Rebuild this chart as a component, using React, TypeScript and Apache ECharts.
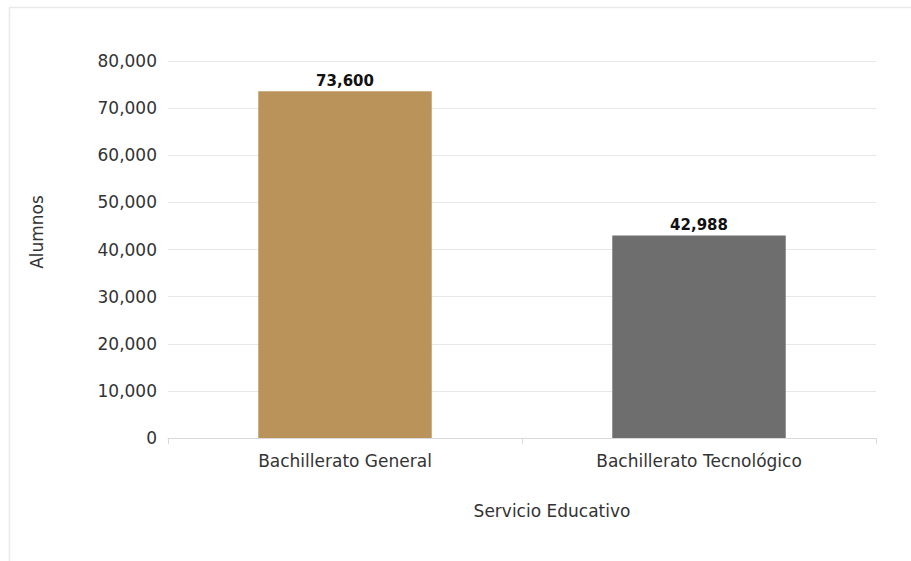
import React, { useEffect, useRef } from "react";
import * as echarts from "echarts";

const categories = ["Bachillerato General", "Bachillerato Tecnológico"];
const values = [73600, 42988];
const barColors = ["#BA935B", "#6E6E6E"];
const yTicks = { min: 0, max: 80000, interval: 10000 };
const yAxisTitle = "Alumnos";
const xAxisTitle = "Servicio Educativo";

const fmt = (v: number) => v.toLocaleString("en-US");
const FONT = "DejaVu Sans";

export default function App() {
  const ref = useRef<HTMLDivElement>(null);
  useEffect(() => {
    document.body.style.margin = "0";
    const chart = echarts.init(ref.current!, null, { renderer: "svg" });
    chart.setOption({
      animation: false,
      textStyle: { fontFamily: FONT },
      graphic: [
        {
          type: "rect",
          shape: { x: 9.5, y: 7.5, width: 1000, height: 700 },
          style: { fill: "none", stroke: "#e9e9e9", lineWidth: 1.5 },
          silent: true,
        },
        {
          type: "text",
          x: 37,
          y: 232,
          rotation: Math.PI / 2,
          style: {
            text: yAxisTitle,
            fill: "#333",
            font: `17px '${FONT}'`,
            align: "center",
            verticalAlign: "middle",
          },
          silent: true,
        },
        {
          type: "text",
          x: 552,
          y: 511,
          style: {
            text: xAxisTitle,
            fill: "#333",
            font: `17px '${FONT}'`,
            align: "center",
            verticalAlign: "middle",
          },
          silent: true,
        },
      ],
      grid: { left: 168, right: 35, top: 61, bottom: 123 },
      xAxis: {
        type: "category",
        data: categories,
        axisLine: { show: true, lineStyle: { color: "#d9d9d9" } },
        axisTick: { show: true, length: 6, lineStyle: { color: "#d9d9d9" } },
        axisLabel: { color: "#333", fontSize: 17, margin: 14, fontFamily: FONT },
      },
      yAxis: {
        type: "value",
        min: yTicks.min,
        max: yTicks.max,
        interval: yTicks.interval,
        axisLine: { show: false },
        axisTick: { show: false },
        axisLabel: {
          color: "#333",
          fontSize: 17,
          margin: 11,
          fontFamily: FONT,
          formatter: (v: number) => fmt(v),
        },
        splitLine: { lineStyle: { color: "#e8e8e8" } },
      },
      series: [
        {
          type: "bar",
          barWidth: "49%",
          data: values.map((v, i) => ({ value: v, itemStyle: { color: barColors[i] } })),
          label: {
            show: true,
            position: "top",
            distance: 3,
            color: "#111",
            fontWeight: "bold",
            fontSize: 15,
            fontFamily: FONT,
            formatter: (p: any) => fmt(p.value),
          },
        },
      ],
    });
    return () => chart.dispose();
  }, []);
  return <div ref={ref} style={{ width: 911, height: 561 }} />;
}
